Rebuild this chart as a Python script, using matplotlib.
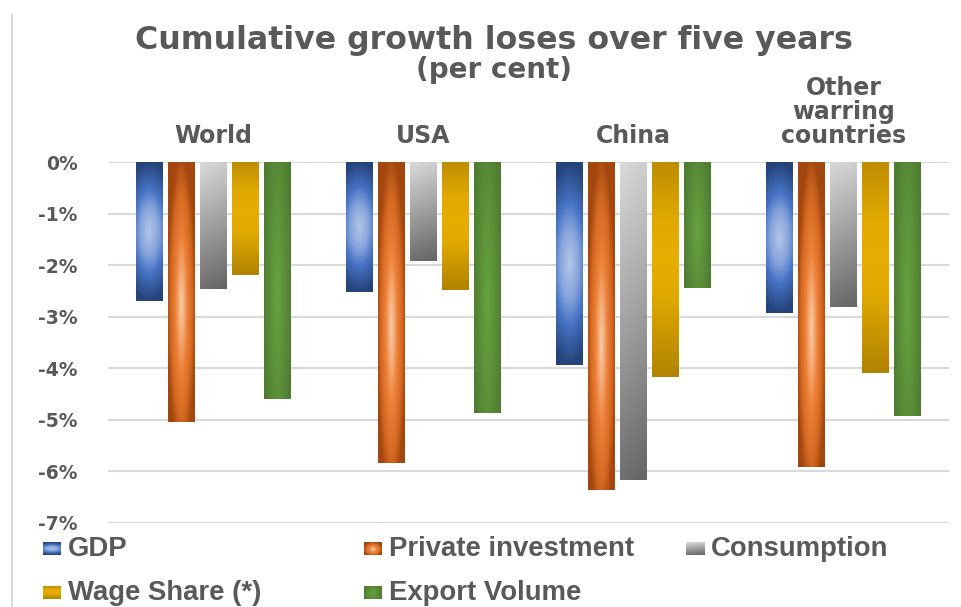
import numpy as np
import matplotlib
matplotlib.use("Agg")
import matplotlib.pyplot as plt
from matplotlib.colors import LinearSegmentedColormap
from matplotlib.lines import Line2D

# ---- data -------------------------------------------------------------
regions = ["World", "USA", "China", "Other\nwarring\ncountries"]
series = ["GDP", "Private investment", "Consumption", "Wage Share (*)", "Export Volume"]
gdp = [-2.70, -2.53, -3.93, -2.92]
private_investment = [-5.05, -5.83, -6.36, -5.92]
consumption = [-2.47, -1.91, -6.16, -2.82]
wage_share = [-2.20, -2.49, -4.16, -4.10]
export_volume = [-4.59, -4.86, -2.44, -4.92]
y_ticks = [0, -1, -2, -3, -4, -5, -6, -7]
y_tick_labels = ["0%", "-1%", "-2%", "-3%", "-4%", "-5%", "-6%", "-7%"]

values = [gdp, private_investment, consumption, wage_share, export_volume]

# ---- gradient fills for each series -----------------------------------
# u: horizontal position in [-1, 1]; v: vertical position, 0 at the bar top, 1 at its bottom
def grad_gdp(u, v):
    return np.sqrt((u * 0.5) ** 2 + ((v - 0.5) * 2) ** 2)

def grad_inv(u, v):
    return np.sqrt(0.85 * np.abs(u) ** 1.8 + 0.75 * ((v - 0.55) * 2) ** 2)

def grad_cons(u, v):
    return v * 0.9 + (u + 1) / 2 * 0.1

def grad_wage(u, v):
    return np.abs(v - 0.45) / 0.55

def grad_export(u, v):
    return np.sqrt(0.85 * u ** 2 + 0.35 * ((v - 0.55) * 2) ** 2)

cmaps = [
    LinearSegmentedColormap.from_list("gdp", [(0, "#b3c6e8"), (0.35, "#86a3db"), (0.6, "#4874c6"),
                                              (1, "#24437a")]),
    LinearSegmentedColormap.from_list("inv", [(0, "#f9cdab"), (0.22, "#f4ab78"), (0.45, "#ee8138"),
                                              (0.75, "#d56922"), (1, "#a3470f")]),
    LinearSegmentedColormap.from_list("cons", [(0, "#dadada"), (1, "#646464")]),
    LinearSegmentedColormap.from_list("wage", [(0, "#e6ae00"), (0.3, "#e2aa00"), (1, "#b08300")]),
    LinearSegmentedColormap.from_list("exp", [(0, "#67a241"), (1, "#4e7c30")]),
]
grads = [grad_gdp, grad_inv, grad_cons, grad_wage, grad_export]
solid = ["#4472c4", "#ed7d31", "#a5a5a5", "#d9a300", "#548235"]

def gradient_image(k, ny=200, nx=60):
    u = np.linspace(-1, 1, nx)[None, :]
    v = np.linspace(0, 1, ny)[:, None]
    t = np.clip(grads[k](u, v), 0, 1)
    return cmaps[k](t)

# ---- figure ------------------------------------------------------------
W, H = 962, 607
fig = plt.figure(figsize=(W / 100, H / 100), dpi=100)
fig.patch.set_facecolor("white")

def fx(px):
    return px / W

def fy(py):
    return 1 - py / H

ax = fig.add_axes([fx(108), fy(523), fx(949) - fx(108), fy(162) - fy(523)])
ax.set_facecolor("white")

x = np.arange(len(regions))
step = 0.1522
width = 0.1284

for k, vals in enumerate(values):
    bars = ax.bar(x + (k - 2) * step, vals, width, color=solid[k], zorder=3, linewidth=0)
    img = gradient_image(k)
    for b in bars:
        x0, y0 = b.get_x(), b.get_y()
        w, h = b.get_width(), b.get_height()
        top, bottom = max(y0, y0 + h), min(y0, y0 + h)
        im = ax.imshow(img, extent=(x0, x0 + w, bottom, top), origin="upper",
                       aspect="auto", interpolation="bilinear", zorder=4)
        im.set_clip_path(b)

ax.set_xlim(-0.5, len(regions) - 0.5)
ax.set_ylim(-7, 0)

# axes styling
for s in ax.spines.values():
    s.set_visible(False)
ax.set_yticks(y_ticks)
ax.set_yticklabels(y_tick_labels)
ax.yaxis.grid(True, color="#d9d9d9", linewidth=1.5, zorder=0)
ax.tick_params(axis="y", length=0, pad=22, labelsize=13.5, labelcolor="#595959")
for lab in ax.get_yticklabels():
    lab.set_fontweight("bold")

ax.xaxis.tick_top()
ax.set_xticks(x)
ax.set_xticklabels(regions, fontsize=17, fontweight="bold", color="#595959", linespacing=1.0)
ax.tick_params(axis="x", length=0, pad=10)
ax.set_axisbelow(True)

# title
fig.text(fx(494), fy(40), "Cumulative growth loses over five years", ha="center", va="center",
         fontsize=22.8, fontweight="bold", color="#595959")
fig.text(fx(494), fy(70), "(per cent)", ha="center", va="center",
         fontsize=20, fontweight="bold", color="#595959")

# chart-area border fragment on the left
fig.add_artist(Line2D([fx(12), fx(12)], [fy(15), 0], color="#d9d9d9", linewidth=1.5,
                      transform=fig.transFigure))

# legend: three evenly spaced columns, two rows
legend_cols = [43, 364, 686]
legend_rows = [548, 592]
legend_slots = [(0, 0), (0, 1), (0, 2), (1, 0), (1, 1)]
for k, name in enumerate(series):
    r, c = legend_slots[k]
    mx, my = legend_cols[c], legend_rows[r]
    lax = fig.add_axes([fx(mx), fy(my + 6.5), fx(18), 13 / H])
    lax.imshow(gradient_image(k, 40, 40), aspect="auto", interpolation="bilinear")
    lax.set_axis_off()
    fig.text(fx(mx + 25), fy(my + 1), name, ha="left", va="center", fontsize=19.8,
             fontweight="bold", color="#595959", family="Liberation Sans")

fig.savefig("out.png", dpi=100, facecolor="white")
